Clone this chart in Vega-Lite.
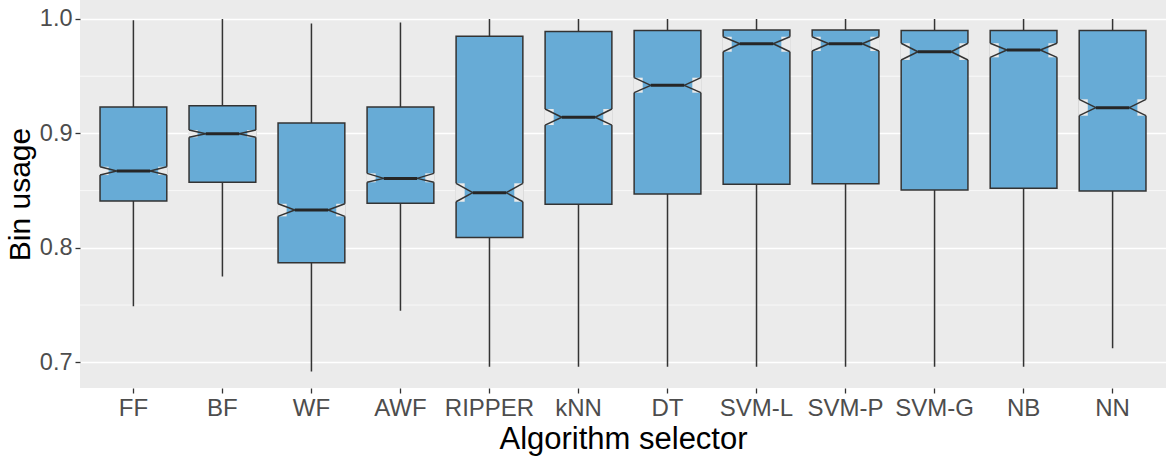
{
  "$schema": "https://vega.github.io/schema/vega-lite/v6.json",
  "width": 1086,
  "height": 388,
  "autosize": "none",
  "padding": {"left": 80, "top": 0, "right": 3, "bottom": 69},
  "background": "white",
  "config": {
    "font": "Liberation Sans",
    "view": {"stroke": null, "fill": "#EBEBEB"},
    "axis": {
      "domain": false,
      "gridColor": "white",
      "gridWidth": 1.4,
      "tickColor": "#333333",
      "tickWidth": 1.3,
      "tickSize": 5,
      "labelColor": "#4D4D4D",
      "labelFontSize": 23.5,
      "labelFont": "Liberation Sans",
      "titleFont": "Liberation Sans",
      "titleFontSize": 31,
      "titleFontWeight": "normal",
      "titleColor": "black",
      "labelPadding": 3
    }
  },
  "datasets": {
    "stats": [
      {"algorithm": "FF", "lower": 0.749, "q1": 0.841, "notch_lo": 0.8636, "median": 0.8671, "notch_hi": 0.8709, "q3": 0.923, "upper": 0.999},
      {"algorithm": "BF", "lower": 0.775, "q1": 0.8573, "notch_lo": 0.8966, "median": 0.8997, "notch_hi": 0.903, "q3": 0.9242, "upper": 1.0},
      {"algorithm": "WF", "lower": 0.692, "q1": 0.787, "notch_lo": 0.8275, "median": 0.833, "notch_hi": 0.8385, "q3": 0.909, "upper": 0.996},
      {"algorithm": "AWF", "lower": 0.745, "q1": 0.839, "notch_lo": 0.8573, "median": 0.8607, "notch_hi": 0.8651, "q3": 0.923, "upper": 0.997},
      {"algorithm": "RIPPER", "lower": 0.696, "q1": 0.809, "notch_lo": 0.8403, "median": 0.8482, "notch_hi": 0.8564, "q3": 0.985, "upper": 1.0},
      {"algorithm": "kNN", "lower": 0.696, "q1": 0.838, "notch_lo": 0.9073, "median": 0.9141, "notch_hi": 0.9213, "q3": 0.989, "upper": 1.0},
      {"algorithm": "DT", "lower": 0.696, "q1": 0.847, "notch_lo": 0.9356, "median": 0.942, "notch_hi": 0.9487, "q3": 0.990, "upper": 1.0},
      {"algorithm": "SVM-L", "lower": 0.696, "q1": 0.8555, "notch_lo": 0.9714, "median": 0.9784, "notch_hi": 0.9845, "q3": 0.9904, "upper": 1.0},
      {"algorithm": "SVM-P", "lower": 0.696, "q1": 0.856, "notch_lo": 0.972, "median": 0.9784, "notch_hi": 0.9845, "q3": 0.9904, "upper": 1.0},
      {"algorithm": "SVM-G", "lower": 0.696, "q1": 0.8505, "notch_lo": 0.9642, "median": 0.9714, "notch_hi": 0.9788, "q3": 0.990, "upper": 1.0},
      {"algorithm": "NB", "lower": 0.696, "q1": 0.852, "notch_lo": 0.9665, "median": 0.9729, "notch_hi": 0.9788, "q3": 0.990, "upper": 1.0},
      {"algorithm": "NN", "lower": 0.7122, "q1": 0.8497, "notch_lo": 0.9155, "median": 0.9225, "notch_hi": 0.9298, "q3": 0.990, "upper": 1.0}
    ],
    "minor": [{"grid": 0.75}, {"grid": 0.85}, {"grid": 0.95}]
  },
  "layer": [
    {
      "data": {"name": "minor"},
      "mark": {"type": "rule", "color": "white", "strokeWidth": 0.7},
      "encoding": {
        "y": {"field": "grid", "type": "quantitative", "title": "Bin usage",
              "scale": {"domain": [0.6775, 1.0166], "nice": false, "zero": false},
              "axis": {"values": [0.7, 0.8, 0.9, 1.0], "format": ".1f", "titlePadding": 4, "titleFontSize": 30}}
      }
    },
    {
      "data": {"name": "stats"},
      "encoding": {
        "x": {"field": "algorithm", "type": "nominal", "sort": null, "title": "Algorithm selector",
              "scale": {"type": "band", "paddingInner": 0, "paddingOuter": 0.1},
              "axis": {"labelAngle": 0, "labelFontSize": 24, "titlePadding": 4}}
      },
      "layer": [
        {
          "mark": {"type": "rule", "color": "#333333", "strokeWidth": 1.5},
          "encoding": {
            "y": {"field": "lower", "type": "quantitative", "title": "Bin usage", "scale": {"domain": [0.6775, 1.0166], "nice": false, "zero": false}},
            "y2": {"field": "upper"}
          }
        },
        {
          "mark": {"type": "bar", "width": {"band": 0.75}, "fill": "#67ABD6", "stroke": "#333333", "strokeWidth": 1.5},
          "encoding": {
            "y": {"field": "q1", "type": "quantitative", "title": "Bin usage", "scale": {"domain": [0.6775, 1.0166], "nice": false, "zero": false}},
            "y2": {"field": "q3"}
          }
        },
        {
          "mark": {"type": "bar", "width": 9.6, "xOffset": -29.6, "fill": "#EBEBEB"},
          "encoding": {
            "y": {"field": "notch_lo", "type": "quantitative", "title": "Bin usage", "scale": {"domain": [0.6775, 1.0166], "nice": false, "zero": false}},
            "y2": {"field": "notch_hi"}
          }
        },
        {
          "mark": {"type": "bar", "width": 9.6, "xOffset": 29.6, "fill": "#EBEBEB"},
          "encoding": {
            "y": {"field": "notch_lo", "type": "quantitative", "title": "Bin usage", "scale": {"domain": [0.6775, 1.0166], "nice": false, "zero": false}},
            "y2": {"field": "notch_hi"}
          }
        },
        {
          "mark": {"type": "rule", "color": "#333333", "strokeWidth": 1.5, "xOffset": -33.4, "x2Offset": -16.7},
          "encoding": {
            "x2": {"field": "algorithm", "bandPosition": 0.5},
            "y": {"field": "notch_lo", "type": "quantitative", "title": "Bin usage", "scale": {"domain": [0.6775, 1.0166], "nice": false, "zero": false}},
            "y2": {"field": "median"}
          }
        },
        {
          "mark": {"type": "rule", "color": "#333333", "strokeWidth": 1.5, "xOffset": -33.4, "x2Offset": -16.7},
          "encoding": {
            "x2": {"field": "algorithm", "bandPosition": 0.5},
            "y": {"field": "notch_hi", "type": "quantitative", "title": "Bin usage", "scale": {"domain": [0.6775, 1.0166], "nice": false, "zero": false}},
            "y2": {"field": "median"}
          }
        },
        {
          "mark": {"type": "rule", "color": "#333333", "strokeWidth": 1.5, "xOffset": 33.4, "x2Offset": 16.7},
          "encoding": {
            "x2": {"field": "algorithm", "bandPosition": 0.5},
            "y": {"field": "notch_lo", "type": "quantitative", "title": "Bin usage", "scale": {"domain": [0.6775, 1.0166], "nice": false, "zero": false}},
            "y2": {"field": "median"}
          }
        },
        {
          "mark": {"type": "rule", "color": "#333333", "strokeWidth": 1.5, "xOffset": 33.4, "x2Offset": 16.7},
          "encoding": {
            "x2": {"field": "algorithm", "bandPosition": 0.5},
            "y": {"field": "notch_hi", "type": "quantitative", "title": "Bin usage", "scale": {"domain": [0.6775, 1.0166], "nice": false, "zero": false}},
            "y2": {"field": "median"}
          }
        },
        {
          "mark": {"type": "rule", "color": "#262626", "strokeWidth": 3, "xOffset": -16.7, "x2Offset": 16.7},
          "encoding": {
            "x2": {"field": "algorithm", "bandPosition": 0.5},
            "y": {"field": "median", "type": "quantitative", "title": "Bin usage", "scale": {"domain": [0.6775, 1.0166], "nice": false, "zero": false}}
          }
        }
      ]
    }
  ]
}
